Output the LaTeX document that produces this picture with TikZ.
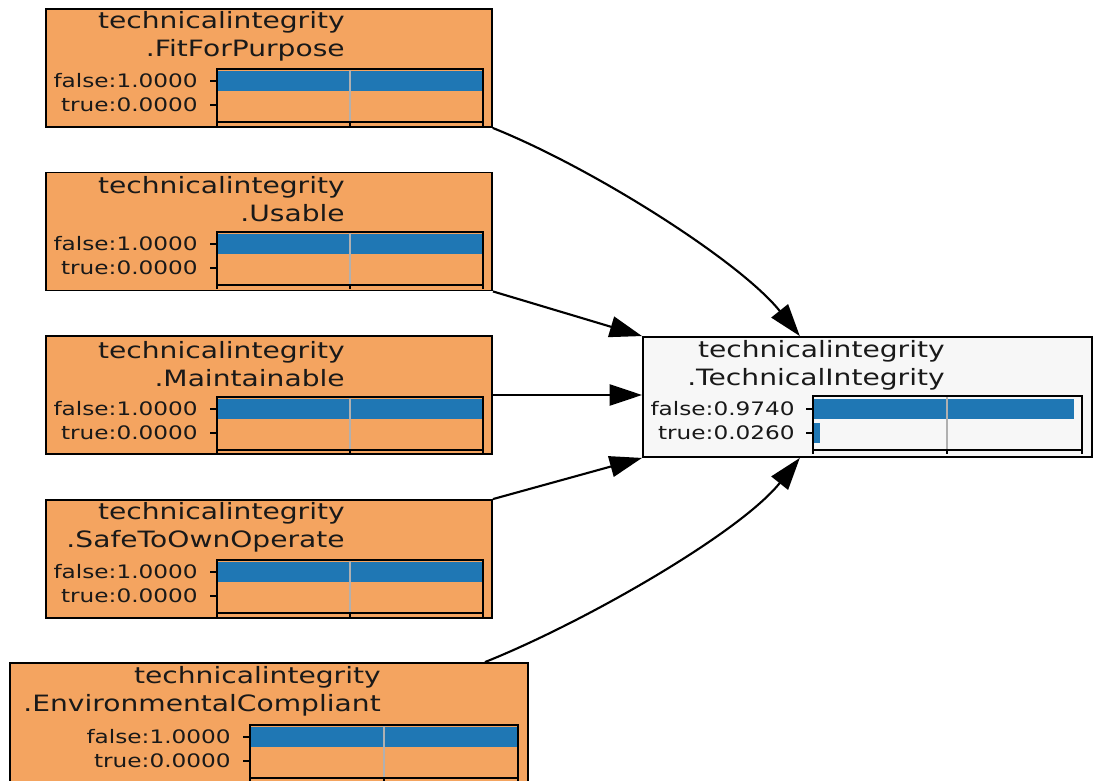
\documentclass[tikz,border=0pt]{standalone}
\usepackage{fontspec}
\newfontfamily\nodefont{DejaVu Sans}[FakeStretch=1.25]
\usetikzlibrary{arrows.meta}
\definecolor{sandy}{HTML}{F4A460}
\definecolor{barblue}{HTML}{1F77B4}
\definecolor{smoke}{HTML}{F7F7F7}
\definecolor{gridgray}{HTML}{B0B0B0}
\begin{document}
\begin{tikzpicture}
     [x=0.025cm, y=-0.025cm,
     statebox/.style={rectangle, draw=black, fill=sandy, line width=1.3pt, inner sep=0pt, minimum width=11.15cm, minimum height=2.95cm},
     querybox/.style={statebox, fill=smoke, minimum width=11.225cm, minimum height=3cm},
     titletext/.style={align=right, anchor=east, inner sep=0pt, text=black!90, font=\nodefont\fontsize{16}{19.9}\selectfont},
     statetext/.style={anchor=east, inner sep=0pt, text=black!90, font=\nodefont\fontsize{13.2}{14}\selectfont},
     axesframe/.style={draw=black, line width=0.8pt},
     gridline/.style={draw=gridgray, line width=0.8pt},
     probbar/.style={fill=barblue},
     edge/.style={draw=black, line width=1.5pt, -{Triangle[length=23pt,width=15pt]}},
     ]
 \useasboundingbox (0,0) rectangle (1101,781);
 \clip (0,0) rectangle (1101,781);
 % FitForPurpose
 \node at (269,68) [statebox] (fit) {};
 \node at (345,36) [titletext] (fittitle) {technicalintegrity\\.FitForPurpose};
 \fill[probbar] (217,71) rectangle (483,91);
 \draw[gridline] (350,69) -- (350,122);
 \draw[axesframe] (217,69) rectangle (483,122);
 \draw[axesframe] (217,122) -- +(0,4) (350,122) -- +(0,4) (483,122) -- +(0,4) (210,81) -- (217,81) (210,105) -- (217,105);
 \node at (198,81) [statetext] (fitfalse) {false:1.0000};
 \node at (198,105) [statetext] (fittrue) {true:0.0000};
 % Usable
 \node at (269,231.5) [statebox] (usable) {};
 \node at (345,199) [titletext] (usabletitle) {technicalintegrity\\.Usable};
 \fill[probbar] (217,234) rectangle (483,254);
 \draw[gridline] (350,232) -- (350,285);
 \draw[axesframe] (217,232) rectangle (483,285);
 \draw[axesframe] (217,285) -- +(0,4) (350,285) -- +(0,4) (483,285) -- +(0,4) (210,244) -- (217,244) (210,268) -- (217,268);
 \node at (198,244) [statetext] (usablefalse) {false:1.0000};
 \node at (198,268) [statetext] (usabletrue) {true:0.0000};
 % Maintainable
 \node at (269,395) [statebox] (maint) {};
 \node at (345,364) [titletext] (mainttitle) {technicalintegrity\\.Maintainable};
 \fill[probbar] (217,399) rectangle (483,419);
 \draw[gridline] (350,397) -- (350,450);
 \draw[axesframe] (217,397) rectangle (483,450);
 \draw[axesframe] (217,450) -- +(0,4) (350,450) -- +(0,4) (483,450) -- +(0,4) (210,409) -- (217,409) (210,433) -- (217,433);
 \node at (198,409) [statetext] (maintfalse) {false:1.0000};
 \node at (198,433) [statetext] (mainttrue) {true:0.0000};
 % SafeToOwnOperate
 \node at (269,559) [statebox] (safe) {};
 \node at (345,527) [titletext] (safetitle) {technicalintegrity\\.SafeToOwnOperate};
 \fill[probbar] (217,562) rectangle (483,582);
 \draw[gridline] (350,560) -- (350,613);
 \draw[axesframe] (217,560) rectangle (483,613);
 \draw[axesframe] (217,613) -- +(0,4) (350,613) -- +(0,4) (483,613) -- +(0,4) (210,572) -- (217,572) (210,596) -- (217,596);
 \node at (198,572) [statetext] (safefalse) {false:1.0000};
 \node at (198,596) [statetext] (safetrue) {true:0.0000};
 % EnvironmentalCompliant
 \node at (269,724) [statebox, minimum width=12.95cm, minimum height=3.05cm] (env) {};
 \node at (381,691) [titletext] (envtitle) {technicalintegrity\\.EnvironmentalCompliant};
 \fill[probbar] (250,727) rectangle (518,747);
 \draw[gridline] (384,725) -- (384,778);
 \draw[axesframe] (250,725) rectangle (518,778);
 \draw[axesframe] (250,778) -- +(0,4) (384,778) -- +(0,4) (518,778) -- +(0,4) (243,737) -- (250,737) (243,761) -- (250,761);
 \node at (231,737) [statetext] (envfalse) {false:1.0000};
 \node at (231,761) [statetext] (envtrue) {true:0.0000};
 % TechnicalIntegrity
 \node at (867.5,397) [querybox] (tgt) {};
 \node at (945,365) [titletext] (tgttitle) {technicalintegrity\\.TechnicalIntegrity};
 \fill[probbar] (813,399) rectangle (1074,419);
 \fill[probbar] (813,423) rectangle (820,443);
 \draw[gridline] (947,396) -- (947,450);
 \draw[axesframe] (813,396) rectangle (1082,450);
 \draw[axesframe] (813,450) -- +(0,4) (947,450) -- +(0,4) (1082,450) -- +(0,4) (806,409) -- (813,409) (806,433) -- (813,433);
 \node at (795,409) [statetext] (tgtfalse) {false:0.9740};
 \node at (795,433) [statetext] (tgttrue) {true:0.0260};
 % edges
 \draw[edge] (fit.-15.5) .. controls +(100,40) and +(-60,-75) .. (tgt.138);
 \draw[edge] (usable.south east) -- (tgt.north west);
 \draw[edge] (maint.east) -- (maint.east -| tgt.west);
 \draw[edge] (safe.north east) -- (tgt.south west);
 \draw[edge] (env.16) .. controls +(100,-40) and +(-60,75) .. (tgt.222);
 \end{tikzpicture}
\end{document}
